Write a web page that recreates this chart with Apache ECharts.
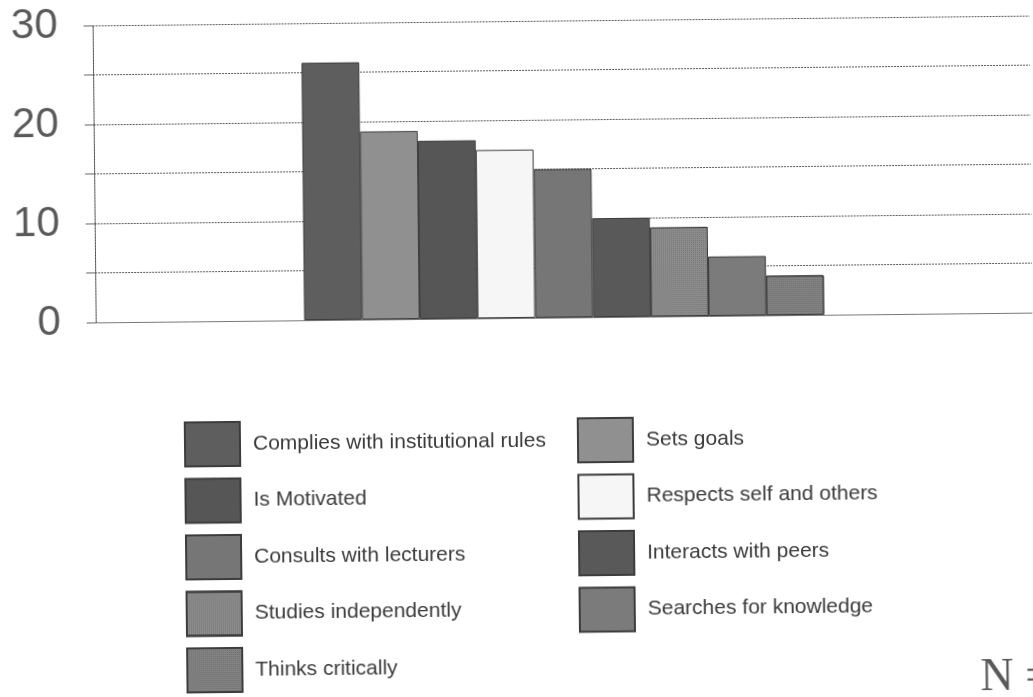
<!DOCTYPE html>
<html>
<head>
<meta charset="utf-8">
<style>
  html, body { margin: 0; padding: 0; background: #ffffff; overflow: hidden; }
  /* the printed page sits slightly askew */
  #chart { width: 1033px; height: 697px; transform: rotate(-0.6deg); transform-origin: 50% 50%; }
</style>
<script src="https://cdn.jsdelivr.net/npm/echarts@6/dist/echarts.min.js"></script>
</head>
<body>
<div id="chart"></div>
<script>
// Student attributes, frequency of mention (one bar per attribute)
const categories = [''];
const attributes = [
  'Complies with institutional rules',
  'Sets goals',
  'Is Motivated',
  'Respects self and others',
  'Consults with lecturers',
  'Interacts with peers',
  'Studies independently',
  'Searches for knowledge',
  'Thinks critically'
];
const counts = [26, 19, 18, 17, 15, 10, 9, 6, 4];
const yTicks = [0, 10, 20, 30];

// Grey shades per attribute, two of them with a fine stipple
const fills = ['#5e5e5e', '#909090', '#565656', '#f6f6f6', '#767676', '#595959', '#8e8e8e', '#7b7b7b', '#848484'];
const stippled = [false, false, false, false, false, false, true, false, true];

const legendLeft = ['Complies with institutional rules', 'Is Motivated', 'Consults with lecturers', 'Studies independently', 'Thinks critically'];
const legendRight = ['Sets goals', 'Respects self and others', 'Interacts with peers', 'Searches for knowledge'];

const font = '"Liberation Sans", Arial, sans-serif';

const series = attributes.map((name, i) => {
  const itemStyle = {
    color: fills[i],
    borderColor: '#3c3c3c',
    borderWidth: 1
  };
  if (stippled[i]) {
    itemStyle.decal = {
      symbol: 'rect',
      symbolSize: 1,
      dashArrayX: [1, 1],
      dashArrayY: [1, 1],
      color: 'rgba(50,50,50,0.3)'
    };
  }
  return {
    name: name,
    type: 'bar',
    data: [counts[i]],
    barGap: '0%',
    barCategoryGap: '44.5%',
    itemStyle: itemStyle,
    emphasis: { disabled: true }
  };
});

const legendBase = {
  orient: 'vertical',
  icon: 'rect',
  padding: 0,
  height: 300,
  itemWidth: 55,
  itemHeight: 44,
  itemGap: 10.5,
  selectedMode: false,
  textStyle: { fontFamily: font, fontSize: 21, color: '#3a3a3a', padding: [0, 0, 0, 8] }
};

const chart = echarts.init(document.getElementById('chart'), null, { renderer: 'canvas' });
chart.setOption({
  animation: false,
  backgroundColor: '#ffffff',
  grid: { left: 96, right: -6, top: 20, bottom: 379, containLabel: false },
  legend: [
    Object.assign({}, legendBase, { left: 183, top: 418, data: legendLeft }),
    Object.assign({}, legendBase, { left: 576, top: 418, data: legendRight })
  ],
  xAxis: {
    type: 'category',
    data: categories,
    axisLine: { show: true, lineStyle: { color: '#7a7a7a', width: 1 } },
    axisTick: { show: false },
    axisLabel: { show: false }
  },
  yAxis: {
    type: 'value',
    min: 0,
    max: 30,
    interval: 5,
    axisLine: { show: true, lineStyle: { color: '#4a4a4a', width: 1, type: [2, 1] } },
    axisTick: { show: true, length: 9, lineStyle: { color: '#666' } },
    axisLabel: {
      margin: 35,
      fontFamily: font,
      fontSize: 42,
      color: '#5a5a5a',
      formatter: v => (yTicks.indexOf(v) >= 0 ? String(v) : '')
    },
    splitLine: { show: true, lineStyle: { color: '#5a5a5a', width: 1, type: [2, 1] } }
  },
  series: series,
  graphic: [{
    type: 'text',
    left: 977,
    top: 660,
    style: { text: 'N =', font: '46px "Liberation Serif", "Times New Roman", serif', fill: '#5a5a5a' }
  }]
});
</script>
</body>
</html>
